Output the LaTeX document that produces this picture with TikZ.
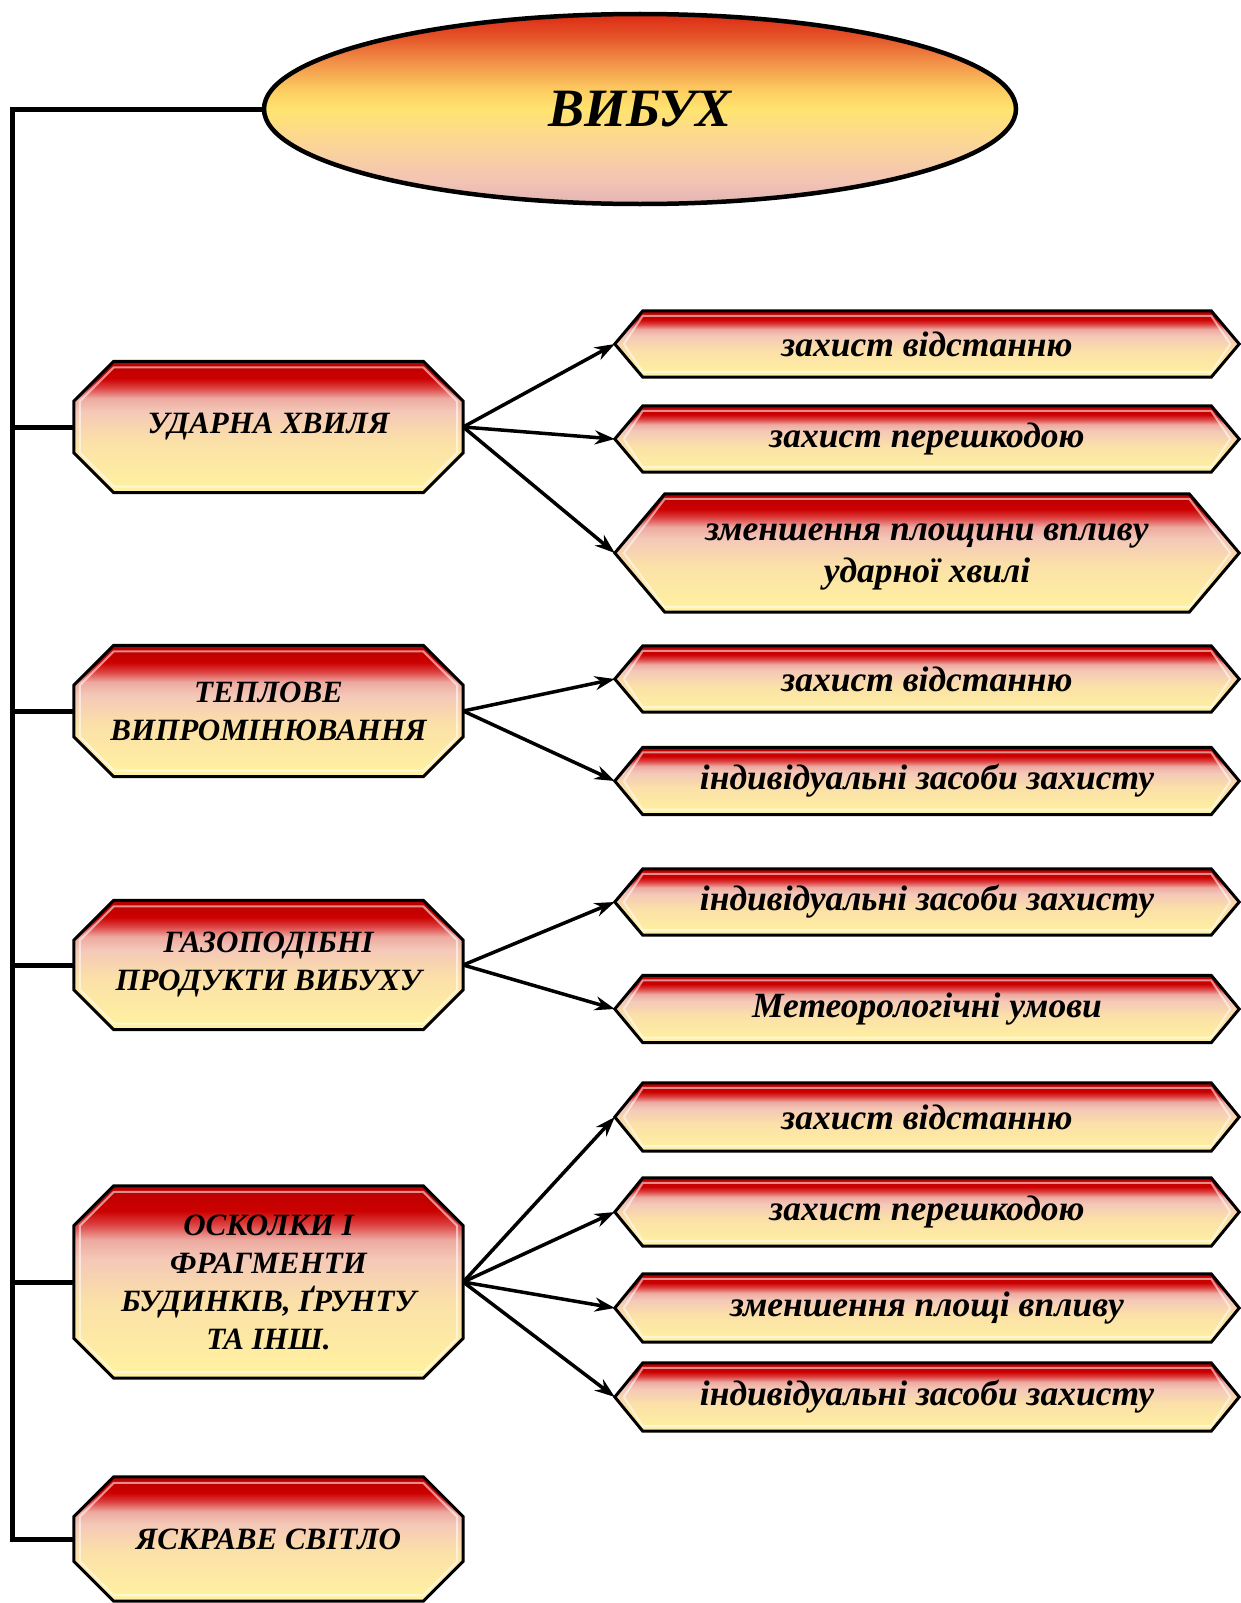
\documentclass[tikz,border=0pt]{standalone}
\usepackage{fontspec}
\setmainfont{Liberation Serif}
\usetikzlibrary{shapes.geometric,arrows.meta,calc}
\pgfdeclarelayer{bg}
\pgfsetlayers{bg,main}
\definecolor{oY}{HTML}{FFF2A0}
\definecolor{oP1}{HTML}{FBE0A8}
\definecolor{oP2}{HTML}{F4C8B8}
\definecolor{oP3}{HTML}{EDA9A0}
\definecolor{oR1}{HTML}{DC4040}
\definecolor{oR2}{HTML}{CC0000}
\definecolor{oR3}{HTML}{B80000}
\definecolor{eA}{HTML}{E4B4B4}
\definecolor{eB}{HTML}{F2C4B4}
\definecolor{eC}{HTML}{FBD49A}
\definecolor{eD}{HTML}{FFE470}
\definecolor{eE}{HTML}{FCCC60}
\definecolor{eF}{HTML}{F29048}
\definecolor{eG}{HTML}{E45428}
\definecolor{eH}{HTML}{DC2A14}
\pgfdeclareverticalshading{octshade}{100bp}{color(0bp)=(oY); color(25bp)=(oY); color(45bp)=(oP1); color(56bp)=(oP2); color(61bp)=(oP3); color(65bp)=(oR1); color(68.5bp)=(oR2); color(75bp)=(oR3); color(100bp)=(oR3)}
\pgfdeclareverticalshading{ellshade}{100bp}{color(0bp)=(eA); color(25bp)=(eA); color(31bp)=(eB); color(40bp)=(eC); color(50bp)=(eD); color(55bp)=(eE); color(62.5bp)=(eF); color(69bp)=(eG); color(75bp)=(eH); color(100bp)=(eH)}
\tikzset{
  boxtext/.style={inner sep=0pt, align=center, font=\bfseries\itshape\fontsize{31}{38}\selectfont},
  hextext/.style={inner sep=0pt, align=center, font=\bfseries\itshape\fontsize{35.5}{43}\selectfont},
  shapeframe/.style={draw=black, line width=3pt, line join=miter, shading=octshade},
  bevel/.style={draw=white, draw opacity=0.55, line width=2pt},
  trunk/.style={line width=5pt, line join=miter},
  arrow/.style={line width=3.5pt, -{Stealth[length=20pt,width=14pt]}},
  bigoval/.style={ellipse, minimum width=752pt, minimum height=190pt, draw=black, line width=4.5pt, shade, shading=ellshade, font=\bfseries\itshape\fontsize{54}{60}\selectfont}
}
\newcommand\octframe[2]{%
\begin{pgfonlayer}{bg}
\shade[shapeframe] ([xshift=#2pt]#1.north west) -- ([xshift=-#2pt]#1.north east) -- ([yshift=-#2pt]#1.north east) -- ([yshift=#2pt]#1.south east) -- ([xshift=-#2pt]#1.south east) -- ([xshift=#2pt]#1.south west) -- ([yshift=#2pt]#1.south west) -- ([yshift=-#2pt]#1.north west) -- cycle;
\draw[bevel] ([xshift=#2pt,yshift=-6pt]#1.north west) -- ([xshift=-#2pt,yshift=-6pt]#1.north east) -- ([xshift=-6pt,yshift=-#2pt]#1.north east) -- ([xshift=-6pt,yshift=#2pt]#1.south east) -- ([xshift=-#2pt,yshift=6pt]#1.south east) -- ([xshift=#2pt,yshift=6pt]#1.south west) -- ([xshift=6pt,yshift=#2pt]#1.south west) -- ([xshift=6pt,yshift=-#2pt]#1.north west) -- cycle;
\end{pgfonlayer}}
\newcommand\hexframe[2]{%
\begin{pgfonlayer}{bg}
\shade[shapeframe] ([xshift=#2pt]#1.north west) -- ([xshift=-#2pt]#1.north east) -- (#1.east) -- ([xshift=-#2pt]#1.south east) -- ([xshift=#2pt]#1.south west) -- (#1.west) -- cycle;
\draw[bevel] ([xshift=#2pt,yshift=-5pt]#1.north west) -- ([xshift=-#2pt,yshift=-5pt]#1.north east) -- ([xshift=-9pt]#1.east) -- ([xshift=-#2pt,yshift=5pt]#1.south east) -- ([xshift=#2pt,yshift=5pt]#1.south west) -- ([xshift=9pt]#1.west) -- cycle;
\end{pgfonlayer}}
\begin{document}
\begin{tikzpicture}[x=1pt,y=-1pt]
\begin{pgfonlayer}{bg}
\fill[white] (0,0) rectangle (1240,1603);
\end{pgfonlayer}
\useasboundingbox (0,0) rectangle (1240,1603);

\node[bigoval] (vib) at (640,109) {ВИБУХ};

% left boxes
\node[boxtext, minimum width=389pt, minimum height=131pt] (b1) at (268.5,427) {УДАРНА ХВИЛЯ};
\octframe{b1}{40}
\node[boxtext, minimum width=389pt, minimum height=131pt] (b2) at (268.5,711) {ТЕПЛОВЕ\\ВИПРОМІНЮВАННЯ};
\octframe{b2}{40}
\node[boxtext, minimum width=389pt, minimum height=129pt] (b3) at (268.5,965) {ГАЗОПОДІБНІ\\ПРОДУКТИ ВИБУХУ};
\octframe{b3}{40}
\node[boxtext, minimum width=389pt, minimum height=192pt] (b4) at (268.5,1282) {ОСКОЛКИ І\\ФРАГМЕНТИ\\БУДИНКІВ, ҐРУНТУ\\ТА ІНШ.};
\octframe{b4}{40}
\node[boxtext, minimum width=389pt, minimum height=124pt] (b5) at (268.5,1539) {ЯСКРАВЕ СВІТЛО};
\octframe{b5}{40}

% right hexagons
\node[hextext, minimum width=624pt, minimum height=66pt] (h1) at (927,344) {захист відстанню};
\hexframe{h1}{28}
\node[hextext, minimum width=624pt, minimum height=66pt] (h2) at (927,439) {захист перешкодою};
\hexframe{h2}{28}
\node[hextext, minimum width=624pt, minimum height=118pt] (h3) at (927,553) {\raisebox{-7pt}{\begin{tabular}{@{}c@{}}зменшення площини впливу\\[-1pt]ударної хвилі\end{tabular}}};
\hexframe{h3}{50}
\node[hextext, minimum width=624pt, minimum height=66pt] (h4) at (927,679) {захист відстанню};
\hexframe{h4}{28}
\node[hextext, minimum width=624pt, minimum height=67pt] (h5) at (927,781) {індивідуальні засоби захисту};
\hexframe{h5}{28}
\node[hextext, minimum width=624pt, minimum height=66pt] (h6) at (927,902) {індивідуальні засоби захисту};
\hexframe{h6}{28}
\node[hextext, minimum width=624pt, minimum height=67pt] (h7) at (927,1009) {Метеорологічні умови};
\hexframe{h7}{28}
\node[hextext, minimum width=624pt, minimum height=68pt] (h8) at (927,1117) {захист відстанню};
\hexframe{h8}{28}
\node[hextext, minimum width=624pt, minimum height=68pt] (h9) at (927,1212) {захист перешкодою};
\hexframe{h9}{28}
\node[hextext, minimum width=624pt, minimum height=68pt] (h10) at (927,1308) {зменшення площі впливу};
\hexframe{h10}{28}
\node[hextext, minimum width=624pt, minimum height=68pt] (h11) at (927,1397) {індивідуальні засоби захисту};
\hexframe{h11}{28}

% trunk
\coordinate (ttop) at (12,108);
\draw[trunk] (vib.west) -- (vib.west -| ttop) -- (b5.west -| ttop) -- (b5.west);
\draw[trunk] (b1.west -| ttop) -- (b1.west);
\draw[trunk] (b2.west -| ttop) -- (b2.west);
\draw[trunk] (b3.west -| ttop) -- (b3.west);
\draw[trunk] (b4.west -| ttop) -- (b4.west);

% arrows
\draw[arrow] (b1.east) -- (h1.west);
\draw[arrow] (b1.east) -- (h2.west);
\draw[arrow] (b1.east) -- (h3.west);
\draw[arrow] (b2.east) -- (h4.west);
\draw[arrow] (b2.east) -- (h5.west);
\draw[arrow] (b3.east) -- (h6.west);
\draw[arrow] (b3.east) -- (h7.west);
\draw[arrow] (b4.east) -- (h8.west);
\draw[arrow] (b4.east) -- (h9.west);
\draw[arrow] (b4.east) -- (h10.west);
\draw[arrow] (b4.east) -- (h11.west);
\end{tikzpicture}
\end{document}
